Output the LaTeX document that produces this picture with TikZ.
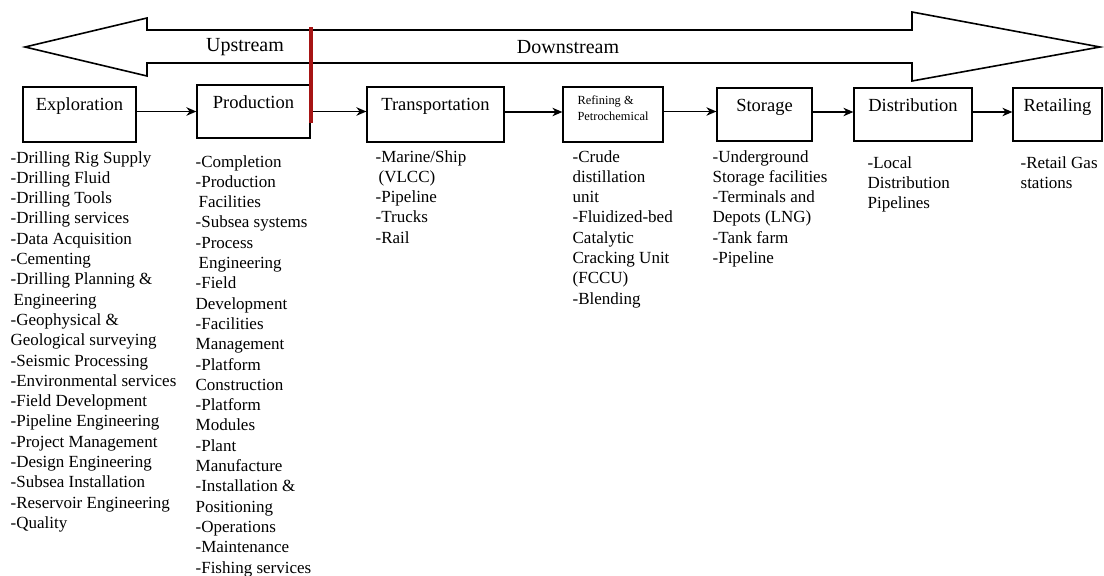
\documentclass[tikz,border=0pt]{standalone}
\usepackage{fontspec}
\setmainfont{Liberation Serif}
\usetikzlibrary{arrows.meta}
\definecolor{divred}{rgb}{0.65,0.08,0.08}

\begin{document}
\begin{tikzpicture}[>={Stealth[length=10pt,width=8.5pt]},x=1pt,y=-1pt,line width=1.3pt,
  stagebox/.style={draw,minimum height=55pt,inner sep=0pt},
  stagename/.style={font=\fontsize{18.5}{22}\selectfont,anchor=base,yshift=-24pt},
  itemlist/.style={align=left,anchor=base west,inner sep=0pt,font=\fontsize{17}{20.3}\selectfont},
  streamname/.style={font=\fontsize{20}{22}\selectfont}]
\useasboundingbox (0,0) rectangle (1104,576);
% value chain arrow
\draw[line width=1.6pt] (25,47) -- (147,18) -- (147,30) -- (912,30) -- (912,12) -- (1100,47)
  -- (912,81) -- (912,63) -- (147,63) -- (147,76) -- cycle;
\node[streamname] (up) at (245,47) {Upstream};
\node[streamname] (down) at (568,47) {Downstream};
% stages
\node[stagebox,minimum width=113pt,label={[stagename]north:Exploration}] (expl) at (79.5,114.5) {};
\node[stagebox,minimum width=113pt,minimum height=53pt,label={[stagename]north:Production}] (prod) at (253.5,111.5) {};
\node[stagebox,minimum width=137pt,label={[stagename]north:Transportation}] (trans) at (435.5,114.5) {};
\node[stagebox,minimum width=100pt,label={[font=\fontsize{12.4}{15.5}\selectfont,align=left,anchor=base,yshift=-34pt]north:Refining \&\\Petrochemical}] (refi) at (613,114.5) {};
\node[stagebox,minimum width=95pt,minimum height=53pt,label={[stagename]north:Storage}] (stor) at (764.5,114.5) {};
\node[stagebox,minimum width=118pt,minimum height=53pt,label={[stagename]north:Distribution}] (dist) at (913,114.5) {};
\node[stagebox,minimum width=89pt,minimum height=53pt,label={[stagename]north:Retailing}] (retl) at (1057.5,114.5) {};
\draw[->] (prod.west -| expl.east) -- (prod.west);
\draw[->] (prod.east) -- (prod.east -| trans.west);
\draw[->] ([yshift=2.5pt]trans.east) -- ([yshift=2.5pt]refi.west);
\draw[->] ([yshift=3pt]refi.east) -- ([yshift=3pt]stor.west);
\draw[->] ([yshift=2.5pt]stor.east) -- ([yshift=2.5pt]dist.west);
\draw[->] ([yshift=2.5pt]dist.east) -- ([yshift=2.5pt]retl.west);
% upstream / downstream divide
\draw[divred,line width=4pt] (311,27) -- (311,123);
% activities (placed by the baseline of their last line)
\node[itemlist] (explList) at (10,528.4) {-Drilling Rig Supply\\-Drilling Fluid\\-Drilling Tools\\
  -Drilling services\\-Data Acquisition\\-Cementing\\-Drilling Planning \&\\\hspace*{3pt}Engineering\\
  -Geophysical \&\\Geological surveying\\-Seismic Processing\\-Environmental services\\
  -Field Development\\-Pipeline Engineering\\-Project Management\\-Design Engineering\\
  -Subsea Installation\\-Reservoir Engineering\\-Quality};
\node[itemlist] (prodList) at (195,573) {-Completion\\-Production\\\hspace*{3pt}Facilities\\
  -Subsea systems\\-Process\\\hspace*{3pt}Engineering\\-Field\\Development\\-Facilities\\
  Management\\-Platform\\Construction\\-Platform\\Modules\\-Plant\\Manufacture\\
  -Installation \&\\Positioning\\-Operations\\-Maintenance\\-Fishing services};
\node[itemlist] (transList) at (375,243.2) {-Marine/Ship\\\hspace*{3pt}(VLCC)\\-Pipeline\\-Trucks\\-Rail};
\node[itemlist] (refiList) at (572,304.1) {-Crude\\distillation\\unit\\-Fluidized-bed\\Catalytic\\
  Cracking Unit\\(FCCU)\\-Blending};
\node[itemlist] (storList) at (712,263.5) {-Underground\\Storage facilities\\-Terminals and\\
  Depots (LNG)\\-Tank farm\\-Pipeline};
\node[itemlist] (distList) at (867,208.6) {-Local\\Distribution\\Pipelines};
\node[itemlist] (retlList) at (1020,188.3) {-Retail Gas\\stations};
\end{tikzpicture}
\end{document}
